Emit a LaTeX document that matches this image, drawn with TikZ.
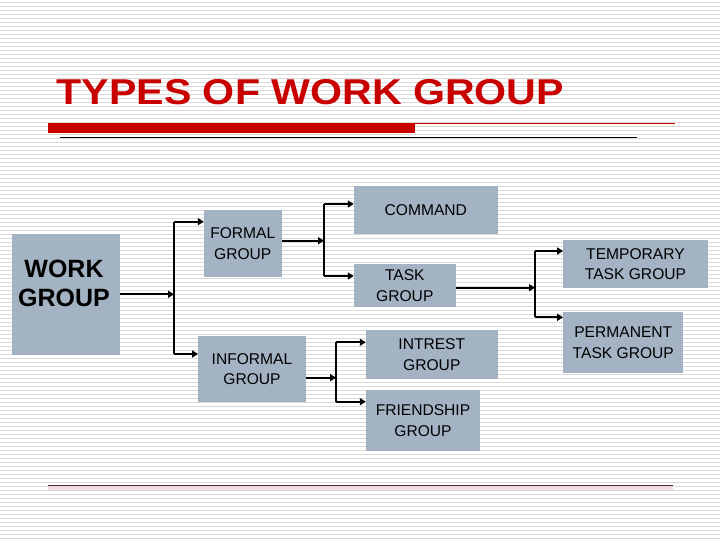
\documentclass[tikz,border=0pt]{standalone}
\usepackage{fontspec}
\setmainfont{Liberation Sans}
\usetikzlibrary{arrows.meta}
\definecolor{boxfill}{HTML}{A3B3C4}
\definecolor{titlered}{HTML}{C80000}
\definecolor{stripecol}{HTML}{DADADA}
\definecolor{footcol}{HTML}{5A2230}
\definecolor{footshade}{HTML}{F6DEDE}
\begin{document}
\begin{tikzpicture}[x=1pt,y=-1pt,
  box/.style={fill=boxfill, draw=none, inner sep=0pt, align=center,
    font=\fontsize{15.6}{20.7}\selectfont},
  conn/.style={line width=2pt, black},
  arr/.style={conn, -{Triangle[length=6pt,width=7pt]}}]
\useasboundingbox (0,0) rectangle (720,540);
\fill[white] (0,0) rectangle (720,540);
\foreach \k in {0,...,134} \draw[stripecol, line width=1.2pt] (0,2.7+4*\k) -- (720,2.7+4*\k);

% title and rules
\node[anchor=base west, inner sep=0pt, text=titlered,
  font=\fontsize{35.9}{40}\selectfont\bfseries] (title) at (56.5,105)
  {\scalebox{1.146}[1]{TYPES OF WORK GROUP}};
\fill[titlered] (48.3,122.7) rectangle (415,132.7);
\draw[titlered, line width=1pt] (415,123.3) -- (675,123.3);
\draw[black, line width=1pt] (60,137.7) -- (636.7,137.7);
\fill[footshade] (48,486.5) rectangle (673,489.5);
\draw[footcol, line width=1.5pt] (48,485.7) -- (673,485.7);

% boxes
\node[box, minimum width=108pt, minimum height=120.7pt] (wg) at (66,294.3) {};
\node[inner sep=0pt, align=center, font=\fontsize{25}{28.5}\selectfont\bfseries] (wgt) at (64,283.5) {WORK\\GROUP};
\node[box, minimum width=77.7pt, minimum height=66.7pt] (formal) at (242.8,243.3) {FORMAL\\GROUP};
\node[box, minimum width=107.4pt, minimum height=66.3pt] (informal) at (252,369.2) {INFORMAL\\GROUP};
\node[box, minimum width=143.7pt, minimum height=48.3pt] (command) at (425.8,210.2) {COMMAND};
\node[box, minimum width=101.7pt, minimum height=42.7pt] (task) at (404.8,285.3) {TASK\\GROUP};
\node[box, minimum width=144.4pt, minimum height=48.3pt] (temp) at (635.5,264.2) {TEMPORARY\\TASK GROUP};
\node[box, minimum width=120pt, minimum height=60.4pt] (perm) at (623.3,342.5) {PERMANENT\\TASK GROUP};
\node[box, minimum width=131.7pt, minimum height=49pt] (intrest) at (431.8,354.5) {INTREST\\GROUP};
\node[box, minimum width=114pt, minimum height=60.7pt] (friend) at (423,420.3) {FRIENDSHIP\\GROUP};

% junctions
\coordinate (j1) at (174,294.3);
\coordinate (j1t) at (174,221.7);
\coordinate (j1b) at (174,354);
\coordinate (j2) at (324,240.7);
\coordinate (j2t) at (324,204);
\coordinate (j2b) at (324,276);
\coordinate (j3) at (336,377.7);
\coordinate (j3t) at (336,342.3);
\coordinate (j3b) at (336,401.7);
\coordinate (j4) at (535,287.7);
\coordinate (j4t) at (535,251);
\coordinate (j4b) at (535,317.3);

% connectors
\draw[arr] (wg.east |- j1) -- (j1);
\draw[conn] (j1t) -- (j1b);
\draw[arr] (j1t) -- (j1t -| formal.west);
\draw[arr] (j1b) -- (j1b -| informal.west);

\draw[arr] (formal.east |- j2) -- (j2);
\draw[conn] (j2t) -- (j2b);
\draw[arr] (j2t) -- (j2t -| command.west);
\draw[arr] (j2b) -- (j2b -| task.west);

\draw[arr] (informal.east |- j3) -- (j3);
\draw[conn] (j3t) -- (j3b);
\draw[arr] (j3t) -- (j3t -| intrest.west);
\draw[arr] (j3b) -- (j3b -| friend.west);

\draw[arr] (task.east |- j4) -- (j4);
\draw[conn] (j4t) -- (j4b);
\draw[arr] (j4t) -- (j4t -| temp.west);
\draw[arr] (j4b) -- (j4b -| perm.west);
\end{tikzpicture}
\end{document}
